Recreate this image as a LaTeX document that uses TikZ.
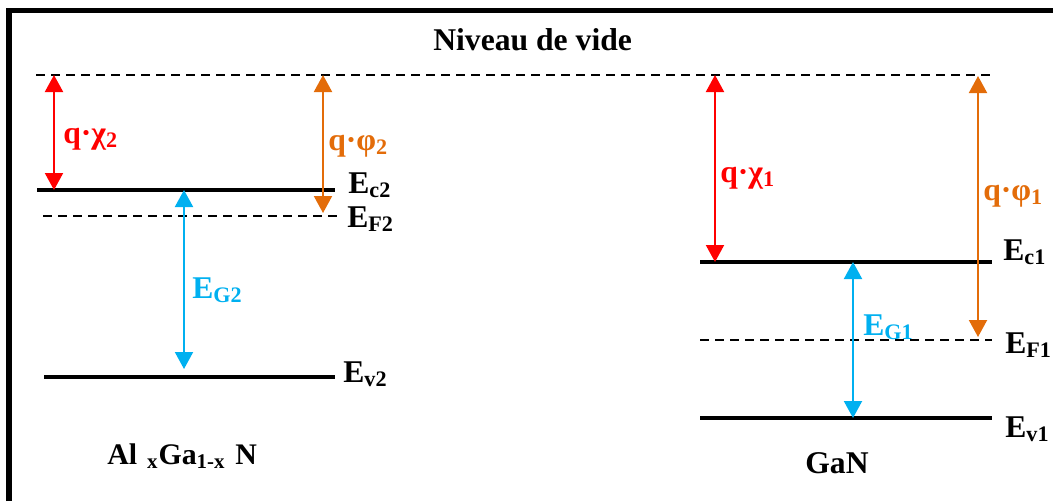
\documentclass[tikz,border=0pt]{standalone}
\usepackage{fontspec}
\setmainfont{Liberation Serif}
\usetikzlibrary{arrows.meta}
\definecolor{chired}{HTML}{FF0000}
\definecolor{phiorange}{HTML}{E36C09}
\definecolor{gapblue}{HTML}{00B0F0}

\begin{document}
\begin{tikzpicture}[x=0.2mm, y=-0.2mm,
    lbl/.style={font=\fontsize{18}{20}\selectfont\bfseries, inner sep=0pt, anchor=base west},
    band/.style={line width=0.8mm, draw=black},
    fermi/.style={line width=0.4mm, draw=black, dash pattern=on 1.8mm off 1.2mm},
    dbl/.style={{Triangle[length=3.4mm,width=3.6mm]}-{Triangle[length=3.4mm,width=3.6mm]}, line width=0.4mm},
    chi/.style={dbl, draw=chired, fill=chired},
    phi/.style={dbl, draw=phiorange, fill=phiorange},
    gap/.style={dbl, draw=gapblue, fill=gapblue}
  ]
    \useasboundingbox (0,0) rectangle (1053,501);

    % frame (only top and left edges show)
    \draw[line width=1.1mm] (9,501) -- (9,10.5) -- (1053,10.5);

    \node[lbl] (vide) at (433,50) {Niveau de vide};

    % vacuum level
    \coordinate (vacL) at (36,75);
    \coordinate (vacR) at (992,75);
    \draw[fermi] (vacL) -- (vacR);

    % AlGaN levels
    \coordinate (ec2a) at (37,190);  \coordinate (ec2b) at (335,190);
    \coordinate (ef2a) at (43,216);  \coordinate (ef2b) at (337,216);
    \coordinate (ev2a) at (44,377);  \coordinate (ev2b) at (335,377);
    \draw[band]  (ec2a) -- (ec2b);
    \draw[fermi] (ef2a) -- (ef2b);
    \draw[band]  (ev2a) -- (ev2b);

    % GaN levels
    \coordinate (ec1a) at (700,262); \coordinate (ec1b) at (992,262);
    \coordinate (ef1a) at (700,340); \coordinate (ef1b) at (992,340);
    \coordinate (ev1a) at (700,418); \coordinate (ev1b) at (992,418);
    \draw[band]  (ec1a) -- (ec1b);
    \draw[fermi] (ef1a) -- (ef1b);
    \draw[band]  (ev1a) -- (ev1b);

    % level names
    \node[lbl] (Ec2) at (348,193) {E\textsubscript{c2}};
    \node[lbl] (EF2) at (347,227) {E\textsubscript{F2}};
    \node[lbl] (Ev2) at (343,382) {E\textsubscript{v2}};
    \node[lbl] (Ec1) at (1003,260) {E\textsubscript{c1}};
    \node[lbl] (EF1) at (1005,353) {E\textsubscript{F1}};
    \node[lbl] (Ev1) at (1005,437) {E\textsubscript{v1}};

    % arrows, AlGaN side
    \coordinate (chi2t) at (54,75);   \coordinate (chi2b) at (54,190);
    \coordinate (phi2t) at (323,75);  \coordinate (phi2b) at (323,213);
    \coordinate (eg2t)  at (184,190); \coordinate (eg2b)  at (184,369);
    \draw[chi] (chi2t) -- (chi2b);
    \draw[phi] (phi2t) -- (phi2b);
    \draw[gap] (eg2t) -- (eg2b);

    % arrows, GaN side
    \coordinate (chi1t) at (715,75);  \coordinate (chi1b) at (715,262);
    \coordinate (phi1t) at (978,76);  \coordinate (phi1b) at (978,337);
    \coordinate (eg1t)  at (853,262); \coordinate (eg1b)  at (853,418);
    \draw[chi] (chi1t) -- (chi1b);
    \draw[phi] (phi1t) -- (phi1b);
    \draw[gap] (eg1t) -- (eg1b);

    % arrow labels
    \node[lbl, text=chired]    (qchi2) at (63,143)  {q·χ\textsubscript{2}};
    \node[lbl, text=phiorange] (qphi2) at (328,150) {q·φ\textsubscript{2}};
    \node[lbl, text=gapblue]   (EG2)   at (192,298) {E\textsubscript{G2}};
    \node[lbl, text=chired]    (qchi1) at (720,182) {q·χ\textsubscript{1}};
    \node[lbl, text=phiorange] (qphi1) at (983,200) {q·φ\textsubscript{1}};
    \node[lbl, text=gapblue]   (EG1)   at (863,335) {E\textsubscript{G1}};

    % materials
    \node[lbl, font=\fontsize{17}{20}\selectfont\bfseries] (algan) at (107,464)
      {Al\,\,\textsubscript{x}Ga\textsubscript{1-x}\,\,N};
    \node[lbl] (gan) at (805,473) {GaN};
\end{tikzpicture}
\end{document}
